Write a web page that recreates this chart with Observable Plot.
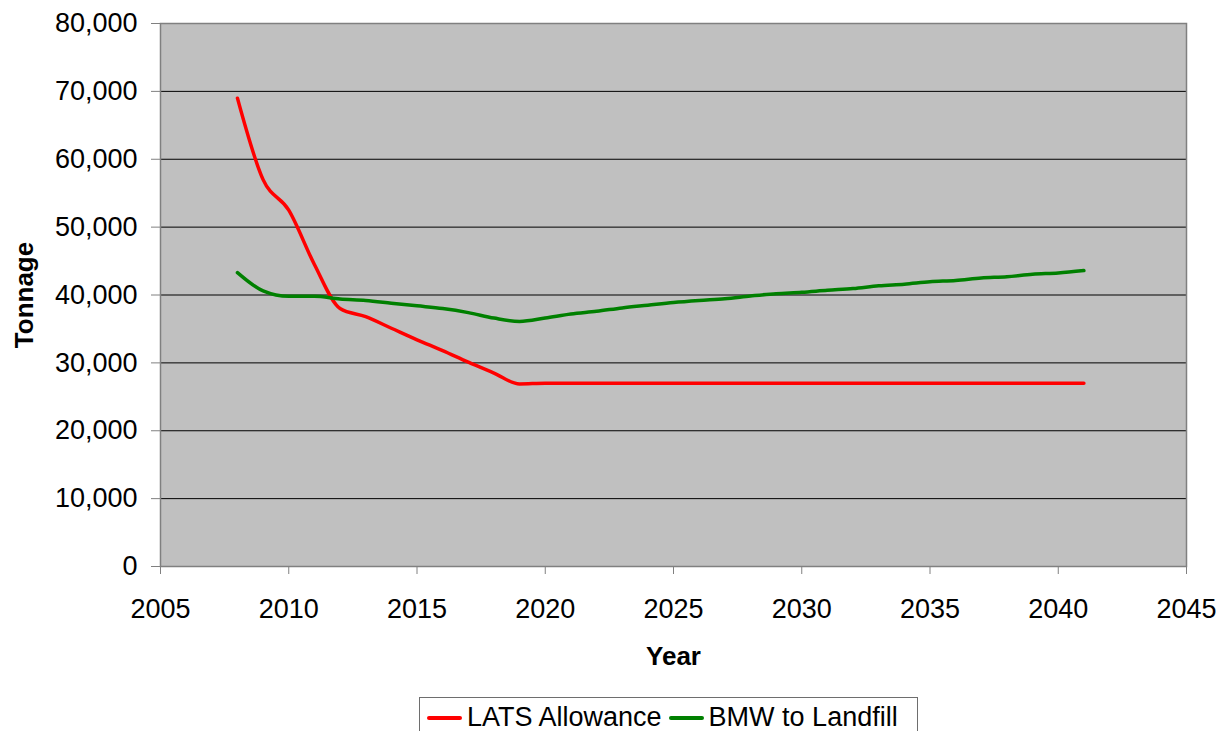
<!DOCTYPE html>
<html>
<head>
<meta charset="utf-8">
<script src="https://cdn.jsdelivr.net/npm/d3@7"></script>
<script src="https://cdn.jsdelivr.net/npm/@observablehq/plot@0.6"></script>
<style>
  html, body { margin: 0; padding: 0; background: #fff; overflow: hidden; }
  #wrap { position: relative; width: 1225px; height: 731px; font-family: "Liberation Sans", Arial, sans-serif; }
  #legend { position: absolute; left: 419px; top: 697px; width: 497px; height: 46px; border: 1px solid #6e6e6e; background: #fff; display: flex; align-items: flex-start; font-size: 27px; color: #000; white-space: nowrap; }
  .item { display: flex; align-items: center; margin-top: 4px; }
  .sw { display: inline-block; width: 35px; height: 4px; border-radius: 2px; margin: 0 5px 0 0; }
</style>
</head>
<body>
<div id="wrap"><div id="chart"></div>
<div id="legend"></div></div>
<script>
const years = [2008, 2009, 2010, 2011, 2012, 2013, 2014, 2015, 2016, 2017, 2018, 2019,
  2020, 2021, 2022, 2023, 2024, 2025, 2026, 2027, 2028, 2029, 2030,
  2031, 2032, 2033, 2034, 2035, 2036, 2037, 2038, 2039, 2040, 2041];
const latsAllowance = [69000, 57000, 52500, 44500, 38000, 36800, 35100, 33400, 31800, 30100, 28500, 26900,
  27000, 27000, 27000, 27000, 27000, 27000, 27000, 27000, 27000, 27000, 27000,
  27000, 27000, 27000, 27000, 27000, 27000, 27000, 27000, 27000, 27000, 27000];
const bmwToLandfill = [43300, 40600, 39800, 39800, 39400, 39200, 38800, 38400, 38000, 37400, 36600, 36100,
  36600, 37200, 37600, 38100, 38500, 38900, 39200, 39450, 39850, 40200, 40400,
  40700, 40950, 41350, 41600, 41950, 42150, 42500, 42700, 43050, 43250, 43600];
const seriesNames = ["LATS Allowance", "BMW to Landfill"];
const seriesColors = ["#ff0000", "#008000"];
const xTicks = [2005, 2010, 2015, 2020, 2025, 2030, 2035, 2040, 2045];
const yTicks = [0, 10000, 20000, 30000, 40000, 50000, 60000, 70000, 80000];

const rows = [];
years.forEach((yr, i) => {
  rows.push({year: yr, value: latsAllowance[i], series: seriesNames[0]});
  rows.push({year: yr, value: bmwToLandfill[i], series: seriesNames[1]});
});

const chart = Plot.plot({
  width: 1225,
  height: 692,
  marginLeft: 160,
  marginRight: 39,
  marginTop: 23,
  marginBottom: 126,
  style: {fontFamily: "Liberation Sans, Arial, sans-serif", fontSize: "27px", color: "#000", background: "#fff"},
  x: {domain: [2005, 2045], label: null},
  y: {domain: [0, 80000], label: null},
  color: {domain: seriesNames, range: seriesColors},
  marks: [
    Plot.frame({fill: "#c0c0c0", stroke: null}),
    Plot.ruleY(yTicks.filter(d => d > 0 && d < 80000), {stroke: "#000", strokeWidth: 1}),
    Plot.line(rows, {x: "year", y: "value", z: "series", stroke: "series", strokeWidth: 3.5, curve: "monotone-x", strokeLinejoin: "round", strokeLinecap: "round"}),
    Plot.frame({stroke: "#808080", strokeWidth: 1.5}),
    Plot.axisX({ticks: xTicks, tickSize: 8, tickPadding: 24, stroke: "#808080", tickFormat: d => String(d), fontSize: 27, label: null}),
    Plot.axisY({ticks: yTicks, tickSize: 9, tickPadding: 14, stroke: "#808080", tickFormat: d3.format(","), fontSize: 27, label: null}),
    Plot.text(["Year"], {text: d => d, frameAnchor: "bottom", dy: 90, textAnchor: "middle", lineAnchor: "middle", fontWeight: "bold", fontSize: 26, fill: "#000"}),
    Plot.text(["Tonnage"], {text: d => d, frameAnchor: "left", dx: -136, rotate: -90, textAnchor: "middle", lineAnchor: "middle", fontWeight: "bold", fontSize: 26, fill: "#000"})
  ]
});
document.getElementById("chart").appendChild(chart);

const legend = document.getElementById("legend");
seriesNames.forEach((name, i) => {
  const item = document.createElement("div");
  item.className = "item";
  item.style.marginLeft = i === 0 ? "7px" : "7px";
  const sw = document.createElement("span");
  sw.className = "sw";
  sw.style.background = seriesColors[i];
  const label = document.createElement("span");
  label.textContent = name;
  item.appendChild(sw);
  item.appendChild(label);
  legend.appendChild(item);
});
</script>
</body>
</html>
